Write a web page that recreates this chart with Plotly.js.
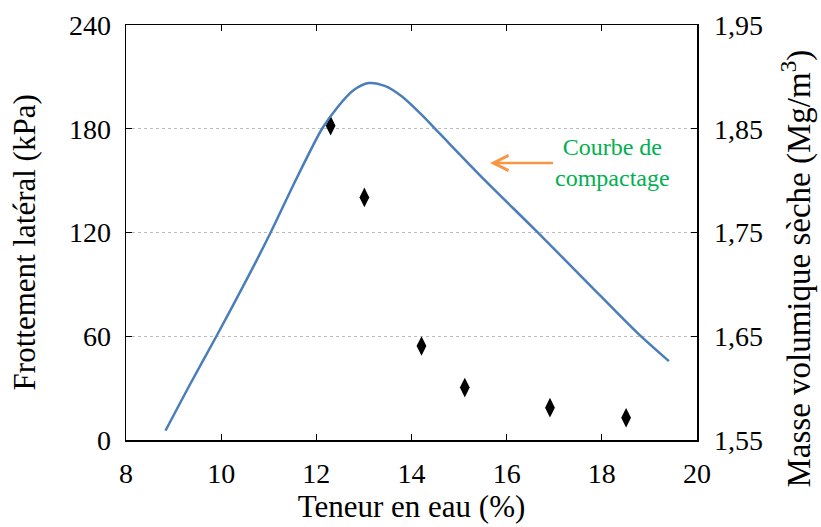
<!DOCTYPE html>
<html>
<head>
<meta charset="utf-8">
<script src="https://cdn.plot.ly/plotly-3.0.1.min.js"></script>
<style>html,body{margin:0;padding:0;background:#fff;}#chart{width:821px;height:527px;}</style>
</head>
<body>
<div id="chart"></div>
<script>
// Frottement latéral (points)
const teneurPoints = [12.30, 13.01, 14.21, 15.12, 16.91, 18.51];
const frottement = [181.8, 140.3, 54.4, 30.3, 18.7, 12.9];

// Courbe de compactage
const teneurCourbe = [8.83, 9.35, 9.90, 10.54, 11.04, 11.53, 12.12, 12.45, 12.78, 13.10, 13.45, 13.80, 14.20, 14.60, 15.55, 16.61, 17.67, 18.73, 19.41];
const masseVolumique = [1.559, 1.604, 1.650, 1.705, 1.750, 1.797, 1.850, 1.871, 1.887, 1.894, 1.891, 1.881, 1.864, 1.845, 1.800, 1.752, 1.703, 1.654, 1.626];

const xTicks = [8, 10, 12, 14, 16, 18, 20];
const yTicks = [0, 60, 120, 180, 240];
const y2Ticks = [1.55, 1.65, 1.75, 1.85, 1.95];
const y2TickText = ['1,55', '1,65', '1,75', '1,85', '1,95'];

const serif = 'Liberation Serif';

const traces = [
  {
    x: teneurCourbe, y: masseVolumique, yaxis: 'y2', type: 'scatter', mode: 'lines',
    line: {color: '#4a7ebb', width: 2.5, shape: 'spline', smoothing: 0.8},
    hoverinfo: 'skip', showlegend: false
  },
  {
    x: teneurPoints, y: frottement, type: 'scatter', mode: 'markers',
    marker: {symbol: 'diamond-tall', size: 14, color: '#000'},
    showlegend: false
  }
];

const layout = {
  width: 821, height: 527,
  margin: {l: 126, r: 124, t: 25, b: 87},
  paper_bgcolor: '#fff', plot_bgcolor: '#fff',
  font: {family: serif, size: 28, color: '#000'},
  showlegend: false,
  xaxis: {
    range: [8, 20], tickvals: xTicks, ticks: 'inside', ticklen: 6, tickcolor: '#000',
    showline: true, linecolor: '#000', linewidth: 1.5, mirror: 'ticks',
    showgrid: false, zeroline: false, ticklabelstandoff: 8,
    tickfont: {family: serif, size: 28},
    title: {text: 'Teneur en eau (%)', font: {family: serif, size: 31}, standoff: 7}
  },
  yaxis: {
    range: [0, 240], tickvals: yTicks, ticks: 'inside', ticklen: 6, tickcolor: '#000',
    showline: true, linecolor: '#000', linewidth: 1.5, mirror: true,
    showgrid: true, gridcolor: '#bdbdbd', griddash: 'dot', gridwidth: 1,
    zeroline: false, ticklabelstandoff: 8,
    tickfont: {family: serif, size: 28}
  },
  yaxis2: {
    range: [1.55, 1.95], overlaying: 'y', side: 'right',
    tickvals: y2Ticks, ticktext: y2TickText, ticks: 'inside', ticklen: 6, tickcolor: '#000',
    showline: true, linecolor: '#000', linewidth: 1.5,
    showgrid: false, zeroline: false, ticklabelstandoff: 10,
    tickfont: {family: serif, size: 28}
  },
  annotations: [
    {
      xref: 'paper', yref: 'paper', x: -0.177, y: 0.476, xanchor: 'center', yanchor: 'middle',
      textangle: -90, showarrow: false,
      text: 'Frottement latéral (kPa)', font: {family: serif, size: 31, color: '#000'}
    },
    {
      xref: 'paper', yref: 'paper', x: 1.174, y: 0.414, xanchor: 'center', yanchor: 'middle',
      textangle: -90, showarrow: false,
      text: 'Masse volumique sèche (Mg/m<sup>3</sup>)', font: {family: serif, size: 33, color: '#000'}
    },
    {
      xref: 'x', yref: 'y2', x: 15.65, y: 1.817, ax: 122, ay: 0,
      showarrow: true, arrowhead: 5, arrowsize: 1.2, arrowwidth: 2.5, arrowcolor: '#f79646',
      text: 'Courbe de<br>compactage', align: 'center',
      font: {family: serif, size: 24, color: '#00b050'}
    }
  ]
};

Plotly.newPlot('chart', traces, layout, {displayModeBar: false, staticPlot: true});
</script>
</body>
</html>
